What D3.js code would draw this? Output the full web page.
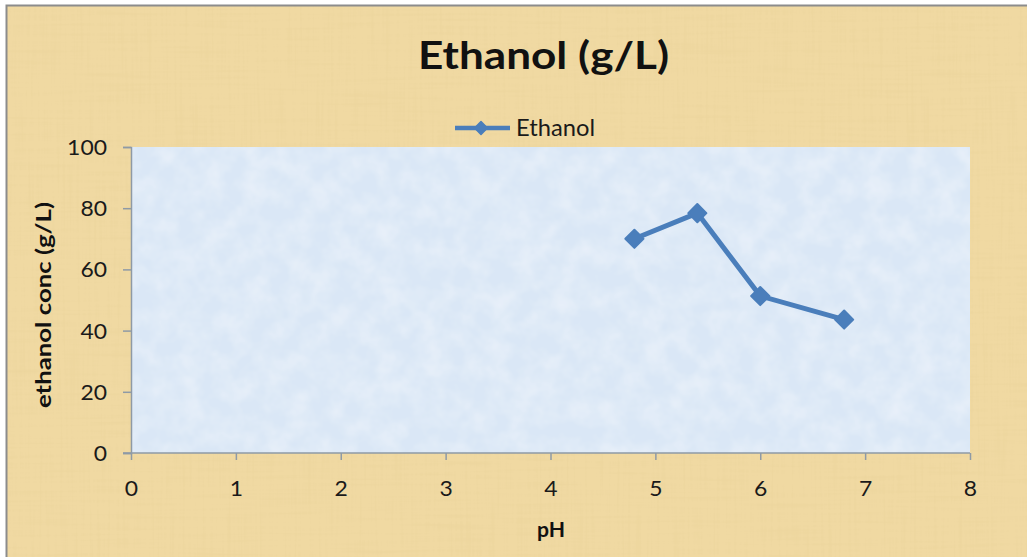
<!DOCTYPE html>
<html>
<head>
<meta charset="utf-8">
<script src="https://cdn.jsdelivr.net/npm/d3@7"></script>
<style>
  html, body { margin: 0; padding: 0; background: #ffffff; overflow: hidden; }
  svg { display: block; font-family: Lato, "Open Sans", sans-serif; }
</style>
</head>
<body>
<svg id="chart" width="1027" height="557"></svg>
<script>
// Ethanol concentration measured at different pH levels
const pH = [4.8, 5.4, 6.0, 6.8];
const ethanol = [70, 78.4, 51.3, 43.6];
const seriesName = "Ethanol";
const xTicks = [0, 1, 2, 3, 4, 5, 6, 7, 8];
const yTicks = [0, 20, 40, 60, 80, 100];

const W = 1027, H = 557;
const plot = { left: 131, right: 970, top: 147, bottom: 453 };
const svg = d3.select("#chart");
const defs = svg.append("defs");

// Woven parchment texture for the chart background
const parch = defs.append("filter").attr("id", "parch").attr("x", 0).attr("y", 0).attr("width", 1).attr("height", 1);
parch.append("feTurbulence").attr("type", "fractalNoise").attr("baseFrequency", "0.35 0.012").attr("numOctaves", 2).attr("seed", 3).attr("result", "v");
parch.append("feTurbulence").attr("type", "fractalNoise").attr("baseFrequency", "0.012 0.3").attr("numOctaves", 2).attr("seed", 9).attr("result", "h");
parch.append("feBlend").attr("in", "v").attr("in2", "h").attr("mode", "multiply").attr("result", "n");
parch.append("feColorMatrix").attr("in", "n").attr("type", "matrix")
  .attr("values", "0 0 0 0 0.78  0 0 0 0 0.62  0 0 0 0 0.3  -1.1 0 0 0 0.48").attr("result", "tint");
parch.append("feComposite").attr("in", "tint").attr("in2", "SourceGraphic").attr("operator", "atop");

// Soft marbled texture for the plot area
const ice = defs.append("filter").attr("id", "ice").attr("x", 0).attr("y", 0).attr("width", 1).attr("height", 1);
ice.append("feTurbulence").attr("type", "fractalNoise").attr("baseFrequency", "0.045").attr("numOctaves", 3).attr("seed", 7).attr("result", "n");
ice.append("feColorMatrix").attr("in", "n").attr("type", "matrix")
  .attr("values", "0 0 0 0 1  0 0 0 0 1  0 0 0 0 1  0.6 0 0 0 -0.2").attr("result", "tint");
ice.append("feComposite").attr("in", "tint").attr("in2", "SourceGraphic").attr("operator", "atop");

// Chart area with grey frame
svg.append("rect").attr("x", 6).attr("y", 5).attr("width", W).attr("height", H)
  .attr("fill", "#f0d9a2").attr("filter", "url(#parch)");
svg.append("path").attr("d", `M6.5,${H} V5.5 H${W}`).attr("fill", "none").attr("stroke", "#8c8c8c").attr("stroke-width", 2);

const x = d3.scaleLinear().domain([0, 8]).range([plot.left, plot.right]);
const y = d3.scaleLinear().domain([0, 100]).range([plot.bottom, plot.top]);

// Plot area
svg.append("rect").attr("x", plot.left).attr("y", plot.top)
  .attr("width", plot.right - plot.left).attr("height", plot.bottom - plot.top)
  .attr("fill", "#dae7f6").attr("filter", "url(#ice)");

// Axes
const axisColor = "#8e9aa6";
const yAxis = svg.append("g").attr("transform", `translate(${plot.left},0)`)
  .call(d3.axisLeft(y).tickValues(yTicks).tickSize(8).tickPadding(16).tickFormat(d3.format("d")));
const xAxis = svg.append("g").attr("transform", `translate(0,${plot.bottom})`)
  .call(d3.axisBottom(x).tickValues(xTicks).tickSize(7).tickPadding(21).tickFormat(d3.format("d")));
[yAxis, xAxis].forEach(g => {
  g.select(".domain").attr("stroke", axisColor).attr("stroke-width", 1.5);
  g.selectAll(".tick line").attr("stroke", axisColor).attr("stroke-width", 1.5);
  g.selectAll(".tick text").attr("fill", "#1a1a1a")
    .style("font-size", "21px").style("font-family", "Lato, sans-serif")
    .attr("textLength", d => String(d).length * 13.3).attr("lengthAdjust", "spacingAndGlyphs");
});
yAxis.selectAll(".tick text").attr("dy", "0.36em");
xAxis.selectAll(".tick text").attr("dy", "0.72em");
xAxis.select(".domain").attr("d", `M${plot.left - 8},0H${plot.right}`);

// Series line and diamond markers
const blue = "#4a7ebb";
const pts = pH.map((p, i) => [p, ethanol[i]]);
svg.append("path").datum(pts)
  .attr("d", d3.line().x(d => x(d[0])).y(d => y(d[1])))
  .attr("fill", "none").attr("stroke", blue).attr("stroke-width", 5).attr("stroke-linejoin", "round");
const diamond = d3.symbol().type(d3.symbolDiamond2).size(210);
svg.selectAll(".mk").data(pts).join("path").attr("class", "mk")
  .attr("transform", d => `translate(${x(d[0])},${y(d[1])})`)
  .attr("d", diamond).attr("fill", blue).attr("stroke", blue).attr("stroke-width", 2).attr("stroke-linejoin", "round");

// Title
svg.append("text").attr("x", 418).attr("y", 69)
  .style("font-size", "38px").style("font-weight", "bold").attr("fill", "#111")
  .attr("textLength", 251).attr("lengthAdjust", "spacingAndGlyphs").text("Ethanol (g/L)");

// Legend
const lg = svg.append("g");
lg.append("line").attr("x1", 455).attr("x2", 510).attr("y1", 128).attr("y2", 128)
  .attr("stroke", blue).attr("stroke-width", 4.5);
lg.append("path").attr("transform", "translate(481,128)")
  .attr("d", d3.symbol().type(d3.symbolDiamond2).size(105)).attr("fill", blue)
  .attr("stroke", blue).attr("stroke-width", 1.5).attr("stroke-linejoin", "round");
lg.append("text").attr("x", 516).attr("y", 136).style("font-size", "23px").attr("fill", "#1a1a1a")
  .attr("textLength", 79).attr("lengthAdjust", "spacingAndGlyphs").text(seriesName);

// Axis titles
svg.append("text").attr("transform", "translate(51,305) rotate(-90)").attr("text-anchor", "middle")
  .style("font-size", "20px").style("font-weight", "bold").attr("fill", "#111")
  .attr("textLength", 206).attr("lengthAdjust", "spacingAndGlyphs").text("ethanol conc (g/L)");
svg.append("text").attr("x", 551).attr("y", 537).attr("text-anchor", "middle")
  .style("font-size", "20px").style("font-weight", "bold").attr("fill", "#111")
  .attr("textLength", 28).attr("lengthAdjust", "spacingAndGlyphs").text("pH");
</script>
</body>
</html>
